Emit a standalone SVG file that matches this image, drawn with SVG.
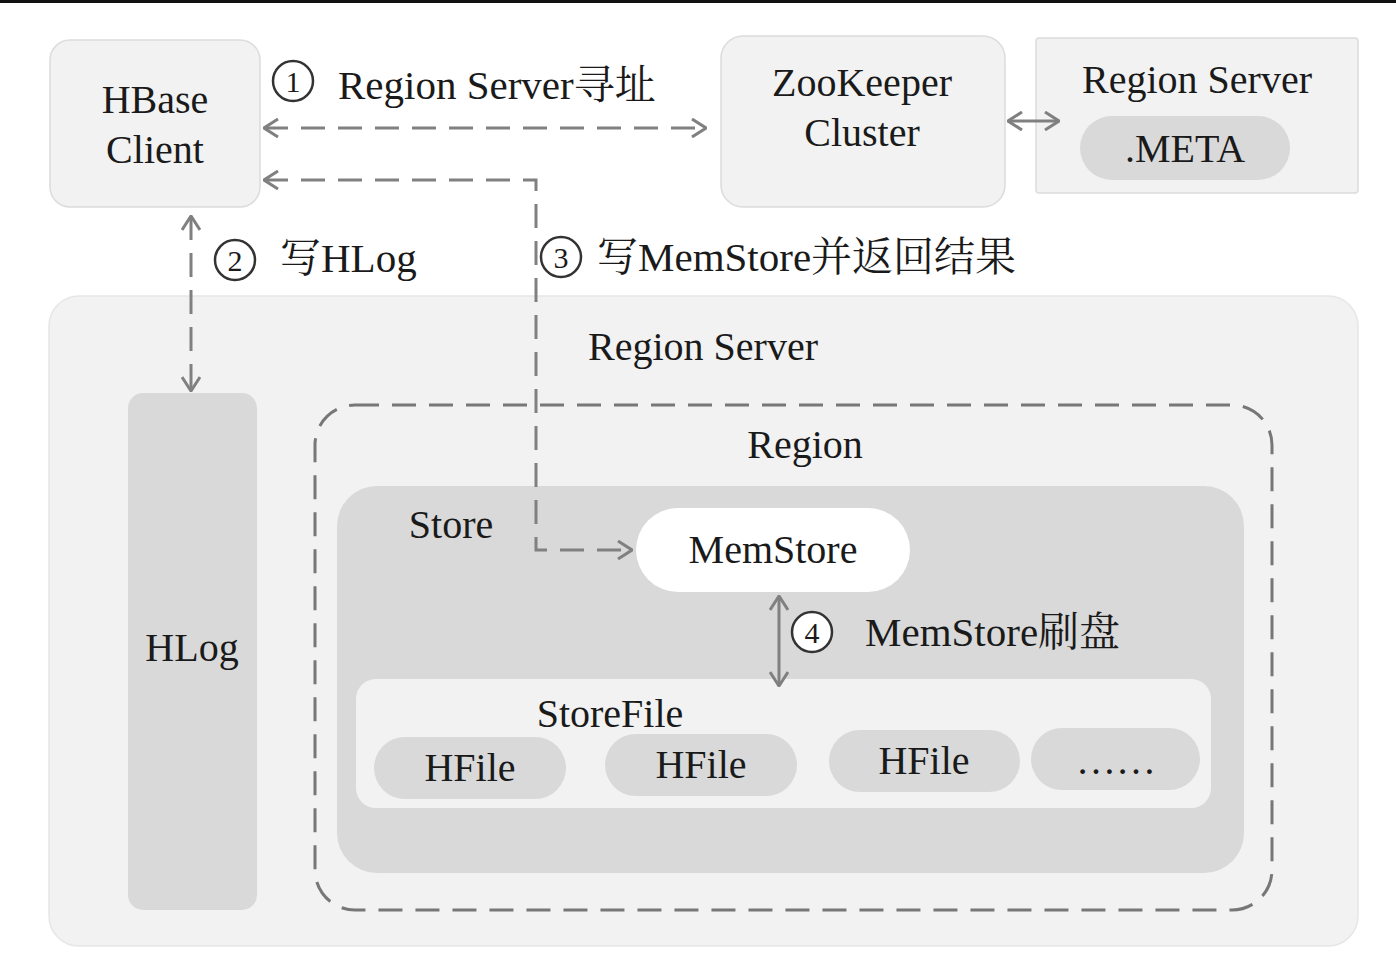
<svg xmlns="http://www.w3.org/2000/svg" width="1396" height="958" viewBox="0 0 1396 958">
<defs>
<style>
.t{font-family:"Liberation Serif","Noto Serif CJK SC","Noto Sans CJK SC",serif;fill:#1a1a1a;font-size:40px;}
.lb{font-size:41px;}
.c{text-anchor:middle;}
.box{fill:#f2f2f2;stroke:#dcdcdc;stroke-width:1.5;}
.pill{fill:#d9d9d9;}
.ln{fill:none;stroke:#808080;stroke-width:3;}
.dash{stroke-dasharray:24 13;}
.num{fill:#fff;stroke:#333;stroke-width:2.5;}
.nt{font-family:"Liberation Serif",serif;font-size:30px;fill:#1a1a1a;text-anchor:middle;}
</style>
<marker id="ah" viewBox="0 0 16 20" refX="15" refY="10" markerWidth="16" markerHeight="20" markerUnits="userSpaceOnUse" orient="auto-start-reverse">
<path d="M1,1 L15,10 L1,19" fill="none" stroke="#808080" stroke-width="3"/>
</marker>
</defs>
<rect width="1396" height="958" fill="#fff"/>
<rect x="0" y="0" width="1396" height="3" fill="#111"/>

<g id="hbase-client">
<rect class="box" x="50" y="40" width="210" height="167" rx="20"/>
<text class="t c" x="155" y="113">HBase</text>
<text class="t c" x="155" y="163">Client</text>
</g>

<g id="zookeeper">
<rect class="box" x="721" y="36" width="284" height="171" rx="22"/>
<text class="t c" x="862" y="96">ZooKeeper</text>
<text class="t c" x="862" y="146">Cluster</text>
</g>

<g id="region-server-meta">
<rect class="box" x="1036" y="38" width="322" height="155" rx="3"/>
<text class="t c" x="1197" y="93">Region Server</text>
<rect class="pill" x="1080" y="116" width="210" height="64" rx="32"/>
<text class="t c" x="1185" y="162">.META</text>
</g>

<g id="region-server">
<rect x="49" y="296" width="1309" height="650" rx="30" fill="#f2f2f2" stroke="#e6e6e6" stroke-width="1.5"/>
<text class="t c" x="703" y="360">Region Server</text>
</g>

<g id="hlog">
<rect class="pill" x="128" y="393" width="129" height="517" rx="15"/>
<text class="t c" x="192" y="661">HLog</text>
</g>

<g id="region">
<rect x="315" y="405" width="957" height="505" rx="40" fill="none" stroke="#777" stroke-width="3" stroke-dasharray="24 13"/>
<text class="t c" x="805" y="458">Region</text>
</g>

<g id="store">
<rect class="pill" x="337" y="486" width="907" height="387" rx="40"/>
<text class="t c" x="451" y="538">Store</text>
</g>

<g id="memstore">
<rect x="636" y="508" width="274" height="84" rx="42" fill="#fff"/>
<text class="t c" x="773" y="563">MemStore</text>
</g>

<g id="storefile">
<rect x="356" y="679" width="855" height="129" rx="20" fill="#f2f2f2"/>
<text class="t c" x="610" y="727">StoreFile</text>
<rect class="pill" x="374" y="737" width="192" height="62" rx="31"/>
<text class="t c" x="470" y="781">HFile</text>
<rect class="pill" x="605" y="734" width="192" height="62" rx="31"/>
<text class="t c" x="701" y="778">HFile</text>
<rect class="pill" x="829" y="730" width="191" height="62" rx="31"/>
<text class="t c" x="924" y="774">HFile</text>
<rect class="pill" x="1031" y="728" width="169" height="62" rx="31"/>
<text class="t c" x="1116" y="774">……</text>
</g>

<g id="connectors">
<line class="ln dash" x1="264" y1="128" x2="706" y2="128" marker-start="url(#ah)" marker-end="url(#ah)"/>
<path class="ln dash" d="M264,180 L536,180 L536,550 L632,550" marker-start="url(#ah)" marker-end="url(#ah)"/>
<line class="ln dash" x1="191" y1="216" x2="191" y2="391" marker-start="url(#ah)" marker-end="url(#ah)"/>
<line class="ln" x1="1008" y1="121" x2="1059" y2="121" marker-start="url(#ah)" marker-end="url(#ah)"/>
<line class="ln" x1="779" y1="596" x2="779" y2="686" marker-start="url(#ah)" marker-end="url(#ah)"/>
</g>

<g id="labels">
<circle class="num" cx="293" cy="81" r="20"/>
<text class="nt" x="293" y="92">1</text>
<text class="t lb" x="338" y="99">Region Server寻址</text>
<circle class="num" cx="235" cy="260" r="20"/>
<text class="nt" x="235" y="271">2</text>
<text class="t lb" x="280" y="272">写HLog</text>
<circle class="num" cx="561" cy="257" r="20"/>
<text class="nt" x="561" y="268">3</text>
<text class="t lb" x="597" y="271">写MemStore并返回结果</text>
<circle class="num" cx="812" cy="632" r="20"/>
<text class="nt" x="812" y="643">4</text>
<text class="t lb" x="865" y="646">MemStore刷盘</text>
</g>
</svg>
